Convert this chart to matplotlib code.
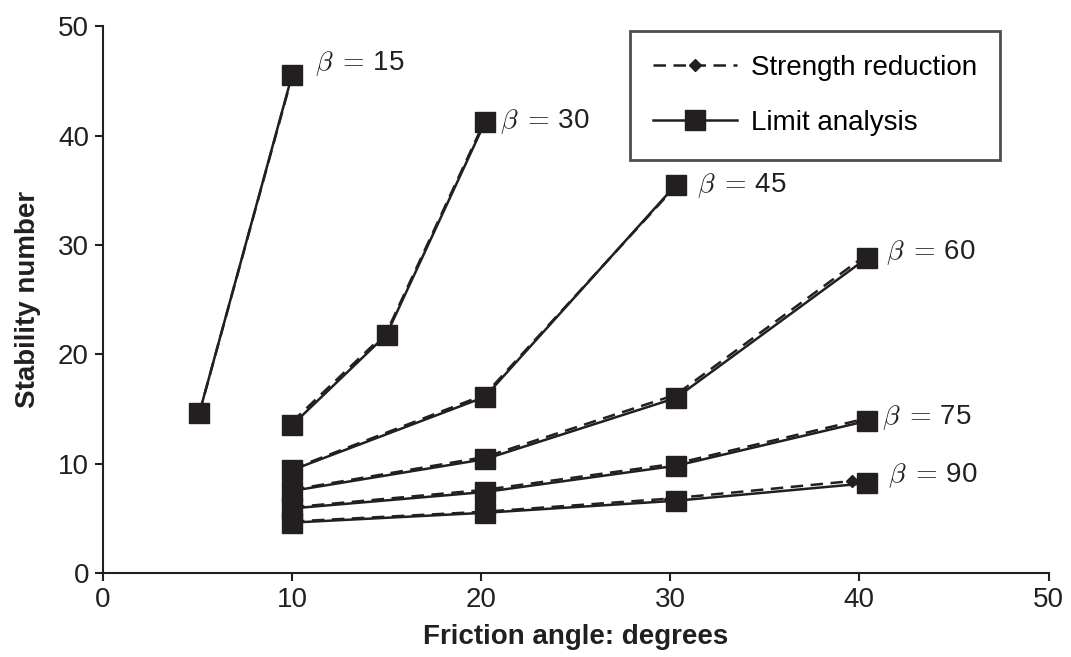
import matplotlib.pyplot as plt

plt.rcParams['font.family'] = ['Liberation Sans', 'DejaVu Sans']
plt.rcParams['mathtext.fontset'] = 'cm'

INK = '#231f20'

# slope angles (beta) and the points of each curve
betas = [15, 30, 45, 60, 75, 90]

phi_limit = {
    15: [5.1, 10.0],
    30: [10.0, 15.0, 20.2],
    45: [10.0, 20.2, 30.3],
    60: [10.0, 20.2, 30.3, 40.4],
    75: [10.0, 20.2, 30.3, 40.4],
    90: [10.0, 20.2, 30.3, 40.4],
}
n_limit = {
    15: [14.6, 45.5],
    30: [13.5, 21.8, 41.2],
    45: [9.4, 16.1, 35.5],
    60: [7.5, 10.4, 16.0, 28.8],
    75: [5.9, 7.4, 9.8, 13.9],
    90: [4.6, 5.5, 6.6, 8.2],
}

phi_sr = {
    15: [5.1, 10.0],
    30: [10.0, 15.0, 20.1],
    45: [10.0, 20.2, 30.2],
    60: [10.0, 20.2, 30.3, 40.3],
    75: [10.0, 20.2, 30.3, 40.3],
    90: [10.0, 20.2, 30.0, 39.6],
}
n_sr = {
    15: [14.6, 45.4],
    30: [13.8, 22.0, 41.0],
    45: [9.5, 16.3, 35.2],
    60: [7.6, 10.6, 16.3, 29.0],
    75: [6.0, 7.6, 10.0, 14.1],
    90: [4.7, 5.6, 6.8, 8.4],
}

label_xy = {
    15: (11.2, 46.6),
    30: (21.0, 41.3),
    45: (31.4, 35.4),
    60: (41.4, 29.3),
    75: (41.2, 14.2),
    90: (41.5, 8.9),
}

fig = plt.figure(figsize=(10.71, 6.57), dpi=100)
ax = fig.add_axes([0.096, 0.128, 0.883, 0.832])

for i, b in enumerate(betas):
    ax.plot(phi_sr[b], n_sr[b], color=INK, lw=1.8, ls=(0, (5, 3)),
            marker='D', ms=6, label='Strength reduction' if i == 0 else None)
    ax.plot(phi_limit[b], n_limit[b], color=INK, lw=1.8, ls='-',
            marker='s', ms=14, label='Limit analysis' if i == 0 else None)
    lx, ly = label_xy[b]
    ax.text(lx, ly, r'$\beta\;=\,$%d' % b, fontsize=20, va='center', ha='left', color=INK)

ax.set_xlim(0, 50)
ax.set_ylim(0, 50)
ax.set_xticks([0, 10, 20, 30, 40, 50])
ax.set_yticks([0, 10, 20, 30, 40, 50])
ax.tick_params(direction='out', length=6, width=1.5, labelsize=20, colors=INK, pad=4)
for s in ['top', 'right']:
    ax.spines[s].set_visible(False)
for s in ['left', 'bottom']:
    ax.spines[s].set_linewidth(1.5)
    ax.spines[s].set_color(INK)

ax.set_xlabel('Friction angle: degrees', fontsize=20, fontweight='bold', color=INK, labelpad=8)
ax.set_ylabel('Stability number', fontsize=20, fontweight='bold', color=INK, labelpad=12)

leg = ax.legend(loc='upper right', bbox_to_anchor=(0.949, 0.991), borderaxespad=0,
                fontsize=20, fancybox=False, edgecolor=INK, handlelength=3.0,
                borderpad=0.85, labelspacing=1.05, handletextpad=0.5)
leg.get_frame().set_linewidth(2)

fig.savefig('out.png', dpi=100)
